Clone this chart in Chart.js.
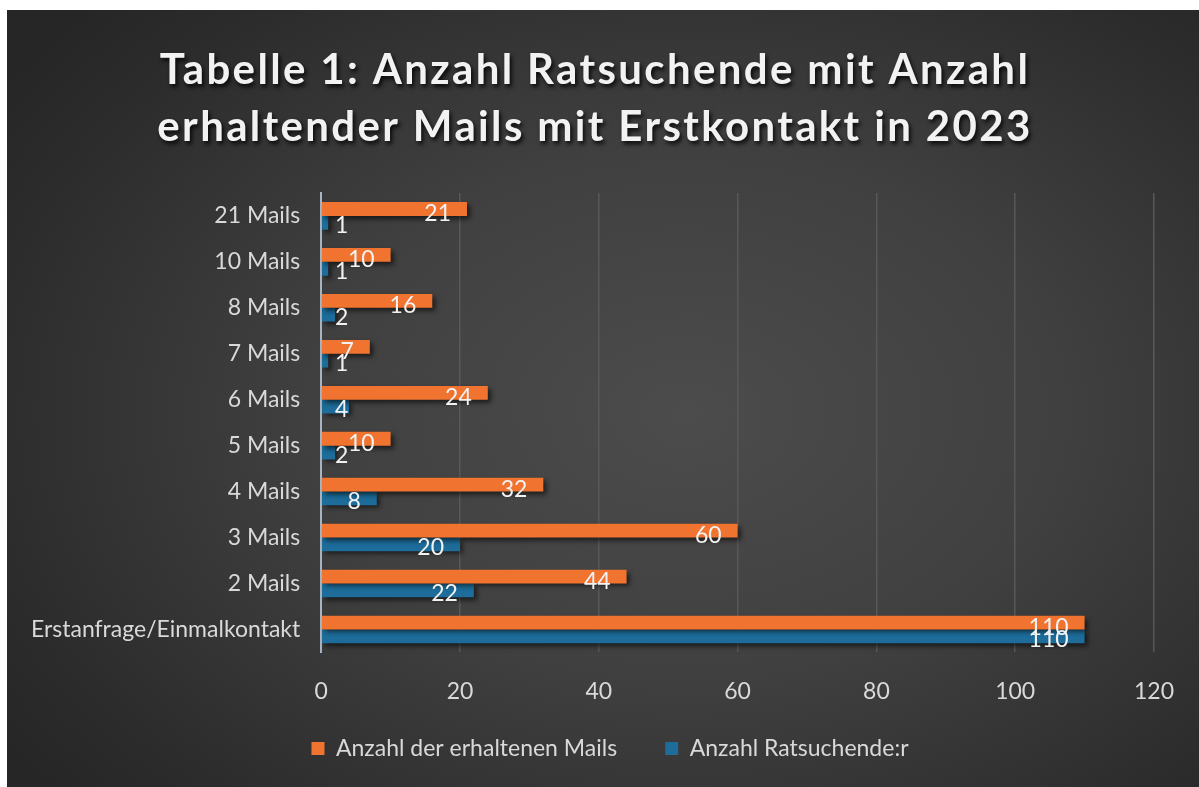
<!DOCTYPE html>
<html>
<head>
<meta charset="utf-8">
<script src="https://cdn.jsdelivr.net/npm/chart.js@4"></script>
<style>
  html, body { margin: 0; padding: 0; background: #fff; }
  #panel {
    position: absolute; left: 7px; top: 10px; width: 1192px; height: 777px;
    background: radial-gradient(ellipse 70% 75% at 57% 52%, #4c4c4c 0%, #404040 45%, #2c2c2c 85%, #262626 100%);
  }
</style>
</head>
<body>
<div id="panel"><canvas id="mailChart" width="1192" height="777"></canvas></div>
<script>
  const categories = ['21 Mails', '10 Mails', '8 Mails', '7 Mails', '6 Mails', '5 Mails', '4 Mails', '3 Mails', '2 Mails', 'Erstanfrage/Einmalkontakt'];
  const mailsReceived = [21, 10, 16, 7, 24, 10, 32, 60, 44, 110];
  const adviceSeekers = [1, 1, 2, 1, 4, 2, 8, 20, 22, 110];
  const xTicks = [0, 20, 40, 60, 80, 100, 120];
  const titleLines = ['Tabelle 1: Anzahl Ratsuchende mit Anzahl', 'erhaltender Mails mit Erstkontakt in 2023'];

  const textColor = '#d9d9d9';
  const baseFont = 'Lato, "Noto Sans", sans-serif';
  const titleWidth = 868; // Breite der ersten Titelzeile im Original
  const legendPad = 48;
  const legendLift = 41;  // Legende näher an die Achse
  const legendShift = 27;

  // Schatten unter den Balken
  const barShadow = {
    id: 'barShadow',
    beforeDatasetsDraw(chart) {
      const ctx = chart.ctx;
      ctx.save();
      ctx.shadowColor = 'rgba(0,0,0,0.6)';
      ctx.shadowBlur = 5;
      ctx.shadowOffsetX = 3;
      ctx.shadowOffsetY = 3;
    },
    afterDatasetsDraw(chart) {
      chart.ctx.restore();
    }
  };

  // Werte an den Balkenenden
  const valueLabels = {
    id: 'valueLabels',
    afterDatasetsDraw(chart) {
      const ctx = chart.ctx;
      const x0 = chart.scales.x.getPixelForValue(0);
      ctx.save();
      ctx.font = '23px ' + baseFont;
      ctx.fillStyle = '#f2f2f2';
      ctx.textAlign = 'right';
      ctx.textBaseline = 'middle';
      chart.data.datasets.forEach((ds, di) => {
        chart.getDatasetMeta(di).data.forEach((bar, i) => {
          const right = Math.max(bar.x - 16, x0 + 27);
          ctx.fillText(String(ds.data[i]), right, bar.y + (di === 0 ? 5 : 3));
        });
      });
      ctx.restore();
    }
  };

  const ctx = document.getElementById('mailChart').getContext('2d');
  const chart = new Chart(ctx, {
    type: 'bar',
    data: {
      labels: categories,
      datasets: [
        {
          label: 'Anzahl der erhaltenen Mails',
          data: mailsReceived,
          backgroundColor: '#f07430'
        },
        {
          label: 'Anzahl Ratsuchende:r',
          data: adviceSeekers,
          backgroundColor: '#1d6c99'
        }
      ]
    },
    plugins: [barShadow, valueLabels],
    options: {
      indexAxis: 'y',
      responsive: false,
      animation: false,
      barPercentage: 1,
      categoryPercentage: 0.6,
      layout: { padding: { top: 20, right: 43, bottom: 17, left: 3 } },
      plugins: {
        title: {
          display: true,
          text: titleLines,
          color: '#f2f2f2',
          font: { family: baseFont, size: 42, weight: 'bold', lineHeight: 1.38 },
          padding: { top: 11, bottom: 36 }
        },
        legend: {
          position: 'bottom',
          labels: {
            color: textColor,
            font: { family: baseFont, size: 23 },
            boxWidth: 13,
            boxHeight: 13,
            padding: legendPad
          }
        },
        tooltip: { enabled: false }
      },
      scales: {
        x: {
          min: 0,
          max: 120,
          afterBuildTicks: axis => { axis.ticks = xTicks.map(v => ({ value: v })); },
          grid: { color: '#585858', lineWidth: 1.5, drawTicks: false },
          border: { display: false },
          ticks: { color: textColor, font: { family: baseFont, size: 23 }, padding: 25 }
        },
        y: {
          grid: { display: false, drawTicks: false },
          border: { color: '#a8b4bf', width: 2 },
          ticks: { color: textColor, font: { family: baseFont, size: 23 }, padding: 21 }
        }
      }
    }
  });

  // Titel mit Sperrung und Schatten
  const block = chart.titleBlock;
  const drawTitle = block.draw.bind(block);
  block.draw = function () {
    const c = chart.ctx;
    c.save();
    c.font = 'bold 42px ' + baseFont;
    c.letterSpacing = '0px';
    const w = c.measureText(titleLines[0]).width;
    c.letterSpacing = ((titleWidth - w) / (titleLines[0].length - 1)).toFixed(2) + 'px';
    c.shadowColor = 'rgba(0,0,0,0.85)';
    c.shadowBlur = 4;
    c.shadowOffsetX = 2;
    c.shadowOffsetY = 3;
    c.translate(12, 0);
    drawTitle();
    c.restore();
  };

  // Legende: weniger Höhe belegen, Text bleibt an seiner Stelle
  const legend = chart.legend;
  const fitLegend = legend.fit.bind(legend);
  legend.fit = function () {
    fitLegend();
    this.height -= legendLift;
  };
  const drawLegend = legend.draw.bind(legend);
  legend.draw = function () {
    const { top, left, right } = this;
    this.top = top - legendLift;
    this.left = left + legendShift;
    this.right = right + legendShift;
    drawLegend();
    Object.assign(this, { top, left, right });
  };
  chart.update();
</script>
</body>
</html>
